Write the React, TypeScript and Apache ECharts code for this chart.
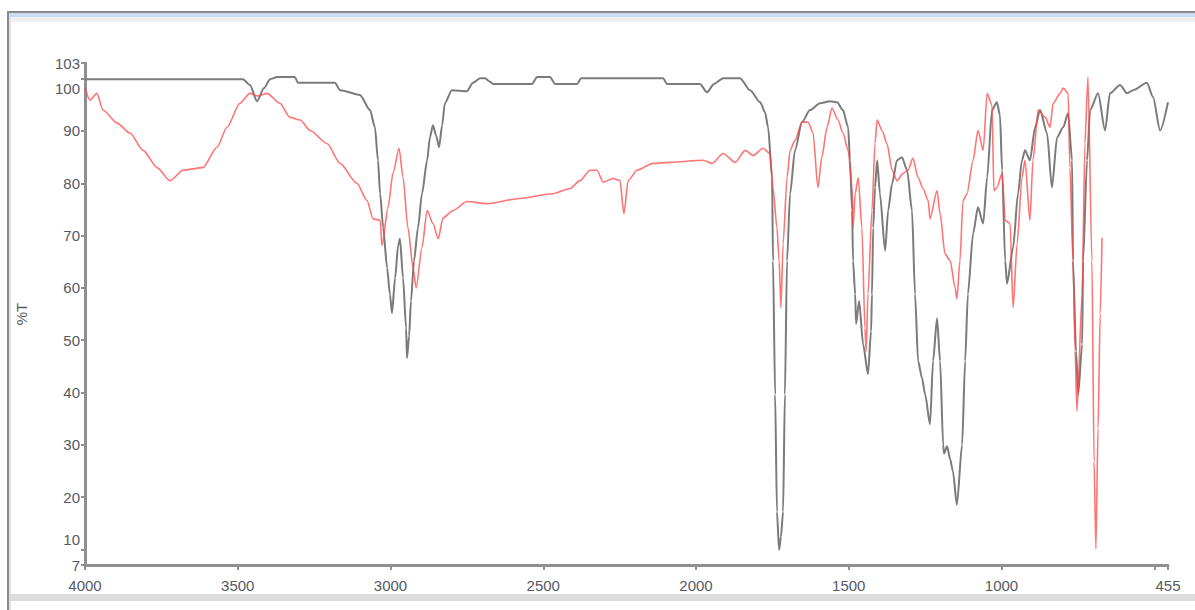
import React, { useEffect, useRef } from "react";
import * as echarts from "echarts";

// Gray spectrum: wavenumber (cm-1) and transmittance (%T)
const grayWavenumber = [
  4000, 3483, 3460, 3437, 3414, 3394, 3371, 3313, 3303, 3182, 3165, 3100, 3067, 3051, 3041, 3034, 3024, 3011,
  3002, 2995, 2985, 2975, 2969, 2959, 2949, 2946, 2939, 2933, 2923, 2910, 2897, 2880, 2871, 2861, 2851, 2841,
  2831, 2822, 2799, 2750, 2730, 2707, 2691, 2674, 2665, 2537, 2520, 2478, 2461, 2389, 2376, 2108, 2095, 1987,
  1964, 1941, 1911, 1856, 1823, 1790, 1774, 1764, 1751, 1748, 1741, 1735, 1728, 1722, 1715, 1709, 1702, 1692,
  1676, 1653, 1627, 1594, 1561, 1538, 1519, 1502, 1496, 1489, 1486, 1479, 1476, 1466, 1453, 1437, 1427, 1424,
  1420, 1414, 1407, 1398, 1381, 1371, 1358, 1342, 1326, 1309, 1293, 1283, 1273, 1260, 1250, 1234, 1224, 1211,
  1201, 1191, 1188, 1178, 1168, 1159, 1146, 1129, 1119, 1110, 1093, 1077, 1060, 1047, 1031, 1015, 1005, 998,
  988, 982, 962, 946, 933, 923, 907, 890, 874, 851, 835, 818, 798, 782, 769, 766, 756, 749, 736, 733, 720, 710,
  684, 661, 645, 612, 589, 569, 524, 504, 481, 455,
];
const grayTransmittance = [
  99.9, 99.9, 98.8, 95.7, 98.2, 99.9, 100.3, 100.3, 99.2, 99.2, 97.8, 96.9, 94.0, 90.7, 84.4, 78.0, 71.5, 63.8,
  58.8, 55.2, 61.9, 68.1, 69.4, 61.9, 52.3, 46.6, 50.8, 57.5, 65.2, 71.5, 78.0, 84.4, 88.8, 91.1, 89.2, 86.9,
  91.1, 95.3, 97.8, 97.6, 99.2, 100.1, 100.1, 99.4, 99.0, 99.0, 100.3, 100.3, 99.0, 99.0, 100.1, 100.1, 99.0, 99.0,
  97.4, 99.0, 100.1, 100.1, 97.8, 95.5, 93.6, 90.7, 81.1, 65.2, 39.6, 17.2, 9.9, 12.4, 17.2, 39.6, 65.2, 78.0,
  86.3, 91.7, 94.0, 95.3, 95.7, 95.5, 94.0, 90.7, 84.4, 74.8, 65.2, 58.8, 53.1, 57.5, 49.2, 43.5, 51.7, 58.8,
  71.5, 79.2, 84.4, 78.0, 67.1, 74.8, 80.0, 84.4, 85.0, 82.5, 74.8, 58.8, 46.0, 42.7, 39.6, 33.9, 46.0, 54.2,
  46.0, 30.0, 28.3, 29.7, 27.2, 24.9, 18.5, 30.0, 46.0, 58.8, 70.4, 75.4, 72.3, 81.1, 94.0, 95.5, 93.0, 82.5,
  65.2, 60.8, 67.7, 78.0, 84.4, 86.3, 84.4, 90.7, 94.0, 89.6, 79.2, 88.8, 90.7, 93.4, 84.4, 65.2, 47.9, 39.6, 49.2, 65.2, 84.4, 94.0,
  97.2, 90.1, 97.2, 98.8, 97.2, 97.8, 99.2, 96.5, 90.1, 95.5,
];

// Red spectrum: wavenumber (cm-1) and transmittance (%T)
const redWavenumber = [
  4000, 3984, 3961, 3941, 3895, 3853, 3810, 3764, 3722, 3679, 3614, 3568, 3535, 3493, 3460, 3434, 3404, 3362,
  3329, 3296, 3263, 3208, 3165, 3110, 3077, 3057, 3034, 3028, 3008, 2992, 2972, 2959, 2943, 2926, 2916, 2897,
  2880, 2861, 2844, 2828, 2795, 2750, 2684, 2576, 2468, 2412, 2380, 2347, 2324, 2304, 2272, 2249, 2236, 2222,
  2193, 2141, 2085, 1977, 1948, 1911, 1872, 1839, 1813, 1781, 1758, 1748, 1735, 1728, 1722, 1715, 1702, 1692,
  1676, 1653, 1633, 1617, 1601, 1588, 1571, 1555, 1535, 1519, 1502, 1489, 1486, 1479, 1469, 1457, 1447, 1443,
  1437, 1424, 1414, 1407, 1391, 1375, 1358, 1342, 1322, 1306, 1290, 1273, 1257, 1240, 1234, 1211, 1201, 1185,
  1168, 1152, 1146, 1136, 1126, 1113, 1093, 1077, 1060, 1047, 1031, 1025, 1015, 998, 988, 972, 962, 949, 933,
  923, 907, 897, 880, 857, 841, 831, 808, 798, 782, 776, 766, 759, 753, 736, 727, 717, 704, 697, 691, 684, 677, 671,
];
const redTransmittance = [
  98.2, 95.9, 97.2, 94.0, 91.5, 89.6, 86.3, 83.0, 80.5, 82.5, 83.0, 86.9, 90.7, 95.3, 97.2, 96.7, 97.2, 95.3,
  92.6, 92.1, 90.1, 87.6, 83.8, 80.0, 76.7, 73.2, 72.9, 68.1, 75.4, 81.9, 86.7, 81.1, 71.5, 63.8, 60.0, 67.7,
  74.8, 72.3, 69.4, 73.4, 74.8, 76.5, 76.1, 77.1, 78.0, 79.0, 80.5, 82.5, 82.5, 80.2, 80.9, 80.5, 74.2, 80.5,
  82.5, 83.8, 84.0, 84.4, 83.8, 85.7, 84.0, 86.3, 85.3, 86.7, 85.7, 79.2, 71.5, 65.2, 56.2, 68.4, 81.1, 86.3,
  88.2, 91.7, 91.7, 89.6, 79.2, 85.0, 90.7, 94.4, 92.1, 89.6, 86.3, 79.2, 71.5, 78.0, 81.1, 71.5, 52.3, 47.9,
  58.8, 74.8, 87.6, 92.1, 90.1, 87.6, 82.5, 80.5, 81.9, 82.5, 84.8, 81.1, 79.0, 76.7, 73.2, 78.6, 74.2, 66.5,
  65.2, 60.0, 57.9, 65.2, 76.7, 78.0, 84.4, 90.1, 86.3, 97.2, 94.9, 78.6, 79.2, 81.9, 72.9, 72.3, 56.2, 68.4, 81.1,
  84.4, 72.9, 84.4, 94.0, 92.6, 90.7, 95.3, 97.2, 98.2, 97.2, 83.0, 65.2, 47.9, 36.4, 58.8, 87.6, 100.3, 65.2, 26.8, 10.1, 33.1, 55.0, 69.6,
];

// Axis ticks and labels
const yTickValues = [7, 10, 20, 30, 40, 50, 60, 70, 80, 90, 100, 103];
const xTickValues = [4000, 3500, 3000, 2500, 2000, 1500, 1000, 500, 455];
const xLabelValues = [4000, 3500, 3000, 2500, 2000, 1500, 1000, 455];

const zip = (xs: number[], ys: number[]) => xs.map((x, i) => [x, ys[i]]);

const labelFont = "Arial, 'Liberation Sans', sans-serif";
const labelColor = "#555a62";

export default function App() {
  const ref = useRef<HTMLDivElement>(null);

  useEffect(() => {
    if (!ref.current) return;
    const chart = echarts.init(ref.current, undefined, { renderer: "svg" });
    chart.setOption({
      animation: false,
      backgroundColor: "#ffffff",
      grid: { left: 85, right: 27, top: 63, bottom: 45 },
      graphic: [
        // window frame around the plot
        { type: "rect", z: -1, shape: { x: 7, y: 11, width: 1200, height: 2 }, style: { fill: "#8a8a8a" } },
        { type: "rect", z: -1, shape: { x: 9, y: 13, width: 1200, height: 4 }, style: { fill: "#c9dcf3" } },
        { type: "rect", z: -1, shape: { x: 9, y: 17, width: 1200, height: 5 }, style: { fill: "#f0f0f0" } },
        { type: "rect", z: -1, shape: { x: 7, y: 11, width: 2, height: 610 }, style: { fill: "#8a8a8a" } },
        { type: "rect", z: -1, shape: { x: 9, y: 17, width: 2, height: 600 }, style: { fill: "#e2e2e2" } },
        { type: "rect", z: -1, shape: { x: 9, y: 594, width: 1200, height: 7 }, style: { fill: "#dcdcdc" } },
      ],
      xAxis: {
        type: "value",
        inverse: true,
        min: 455,
        max: 4000,
        splitLine: { show: false },
        axisLine: { lineStyle: { color: "#8f8f8f", width: 3 } },
        axisTick: { customValues: xTickValues, length: 5, lineStyle: { color: "#8f8f8f", width: 2 } },
        axisLabel: {
          customValues: xLabelValues,
          margin: 13,
          fontSize: 15,
          fontFamily: labelFont,
          color: labelColor,
          formatter: (v: number) => String(v),
        },
      },
      yAxis: {
        type: "value",
        min: 7,
        max: 103,
        name: "%T",
        nameLocation: "middle",
        nameGap: 56,
        nameRotate: 90,
        nameTextStyle: { fontSize: 15, fontFamily: labelFont, color: labelColor },
        splitLine: { show: false },
        axisLine: { lineStyle: { color: "#8f8f8f", width: 3 } },
        axisTick: { customValues: yTickValues, length: 4, lineStyle: { color: "#8f8f8f", width: 2 } },
        axisLabel: {
          customValues: yTickValues,
          margin: 5,
          fontSize: 15,
          fontFamily: labelFont,
          color: labelColor,
          formatter: (v: number) => (v === 100 ? "{dn|100}" : v === 10 ? "{up|10}" : String(v)),
          rich: {
            dn: { padding: [20, 0, 0, 0], fontSize: 15, fontFamily: labelFont, color: labelColor },
            up: { padding: [0, 0, 20, 0], fontSize: 15, fontFamily: labelFont, color: labelColor },
          },
        },
      },
      series: [
        {
          name: "gray",
          type: "line",
          data: zip(grayWavenumber, grayTransmittance),
          showSymbol: false,
          smooth: 0.25,
          smoothMonotone: "x",
          lineStyle: { color: "#7b7b7b", width: 2 },
          z: 2,
        },
        {
          name: "red",
          type: "line",
          data: zip(redWavenumber, redTransmittance),
          showSymbol: false,
          smooth: 0.25,
          smoothMonotone: "x",
          lineStyle: { color: "rgba(255, 70, 70, 0.75)", width: 1.6 },
          z: 3,
        },
      ],
    });
    return () => chart.dispose();
  }, []);

  return (
    <div
      ref={ref}
      style={{ position: "fixed", left: 0, top: 0, width: 1195, height: 610, background: "#fff" }}
    />
  );
}
